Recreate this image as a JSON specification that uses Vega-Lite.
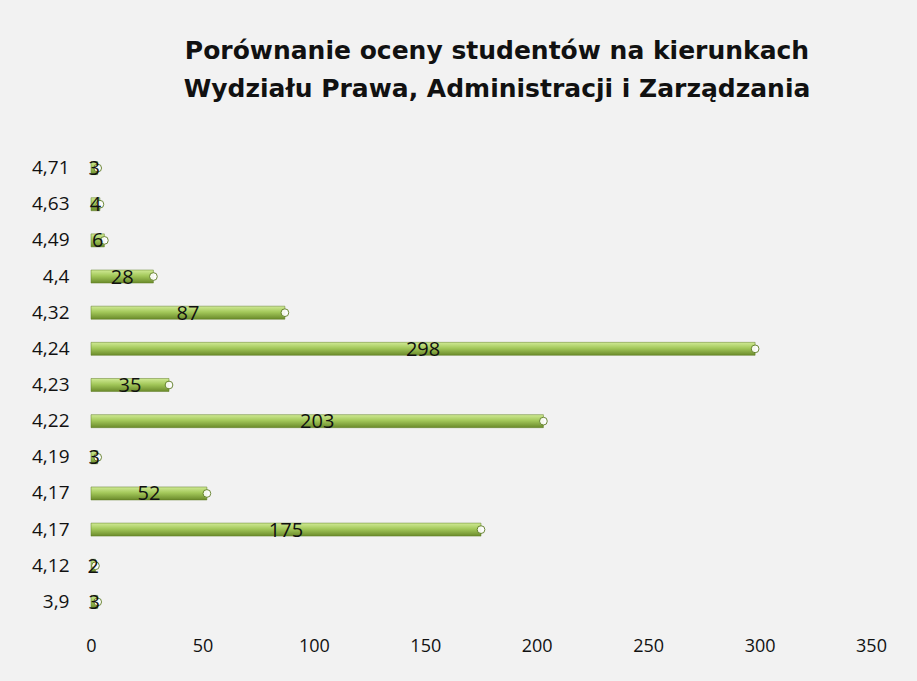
{
  "$schema": "https://vega.github.io/schema/vega-lite/v6.json",
  "width": 780,
  "height": 470,
  "autosize": "none",
  "padding": {"left": 91, "top": 150, "right": 46, "bottom": 61},
  "background": "#f2f2f2",
  "title": {
    "text": ["Porównanie oceny studentów na kierunkach", "Wydziału Prawa, Administracji i Zarządzania"],
    "font": "DejaVu Sans",
    "fontSize": 25,
    "fontWeight": "bold",
    "color": "#111111",
    "lineHeight": 38,
    "anchor": "middle",
    "offset": 48,
    "dx": 16
  },
  "config": {"view": {"stroke": null}},
  "data": {
    "values": [
      {"cat": "4,71|1", "v": 3},
      {"cat": "4,63|1", "v": 4},
      {"cat": "4,49|1", "v": 6},
      {"cat": "4,4|1", "v": 28},
      {"cat": "4,32|1", "v": 87},
      {"cat": "4,24|1", "v": 298},
      {"cat": "4,23|1", "v": 35},
      {"cat": "4,22|1", "v": 203},
      {"cat": "4,19|1", "v": 3},
      {"cat": "4,17|1", "v": 52},
      {"cat": "4,17|2", "v": 175},
      {"cat": "4,12|1", "v": 2},
      {"cat": "3,9|1", "v": 3}
    ]
  },
  "encoding": {
    "y": {
      "field": "cat",
      "type": "nominal",
      "sort": null,
      "scale": {"paddingInner": 0.64, "paddingOuter": 0.32},
      "axis": {
        "title": null,
        "domain": false,
        "ticks": false,
        "labelExpr": "split(datum.value, '|')[0]",
        "labelFont": "Open Sans",
        "labelFontSize": 19,
        "labelColor": "#111111",
        "labelPadding": 22
      }
    }
  },
  "layer": [
    {
      "mark": {
        "type": "bar",
        "color": {
          "gradient": "linear",
          "x1": 0, "y1": 0, "x2": 0, "y2": 1,
          "stops": [
            {"offset": 0, "color": "#d0ea95"},
            {"offset": 0.45, "color": "#a3c85a"},
            {"offset": 1, "color": "#6a8a2a"}
          ]
        },
        "stroke": "#5f7d25",
        "strokeWidth": 0.5
      },
      "encoding": {
        "x": {
          "field": "v",
          "type": "quantitative",
          "scale": {"domain": [0, 350]},
          "axis": {
            "title": null,
            "domain": false,
            "ticks": false,
            "grid": false,
            "labelFlush": false,
            "values": [0, 50, 100, 150, 200, 250, 300, 350],
            "labelFont": "Open Sans",
            "labelFontSize": 18,
            "labelColor": "#111111",
            "labelPadding": 17
          }
        }
      }
    },
    {
      "mark": {"type": "point", "shape": "circle", "size": 60, "filled": true, "color": "#ffffff", "stroke": "#5f7d25", "strokeWidth": 1, "opacity": 0.9},
      "encoding": {
        "x": {"field": "v", "type": "quantitative", "scale": {"domain": [0, 350]}, "axis": null}
      }
    },
    {
      "mark": {"type": "text", "font": "Open Sans", "fontSize": 20, "color": "#111111", "align": "center", "baseline": "middle", "dy": 1},
      "encoding": {
        "x": {"field": "v", "type": "quantitative", "scale": {"domain": [0, 700]}, "axis": null},
        "text": {"field": "v", "type": "quantitative"}
      }
    }
  ],
  "resolve": {"scale": {"x": "independent"}}
}
